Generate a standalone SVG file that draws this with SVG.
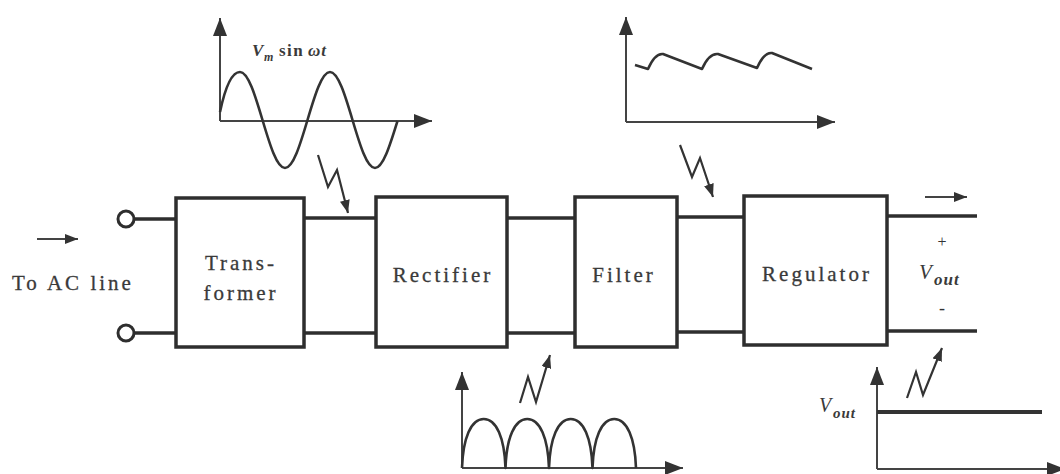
<svg xmlns="http://www.w3.org/2000/svg" width="1060" height="474" viewBox="0 0 1060 474">
<style>
.box{fill:#fff;stroke:#2e2e2e;stroke-width:3.5}
.wire{fill:none;stroke:#2e2e2e;stroke-width:3.5}
.ax{fill:none;stroke:#444;stroke-width:2}
.wave{fill:none;stroke:#333;stroke-width:2.6;stroke-linejoin:round}
.bolt{fill:none;stroke:#333;stroke-width:2.2;stroke-linejoin:miter}
.lbl{font-family:"Liberation Serif","Times New Roman",serif;font-size:21px;letter-spacing:3px;fill:#3a3a3a;stroke:#3a3a3a;stroke-width:0.3;text-anchor:middle}
.it{font-family:"Liberation Serif","Times New Roman",serif;font-style:italic;fill:#3a3a3a}
</style>
<defs>
<marker id="ah" markerWidth="20" markerHeight="14" refX="18" refY="7" orient="auto" markerUnits="userSpaceOnUse"><path d="M0,0 L18,7 L0,14 z" fill="#333"/></marker>
<marker id="as" markerWidth="14" markerHeight="10" refX="13" refY="5" orient="auto" markerUnits="userSpaceOnUse"><path d="M0,0 L13,5 L0,10 z" fill="#333"/></marker>
</defs>
<rect width="1060" height="474" fill="#fff"/>

<g id="connectors">
  <line class="wire" x1="134" y1="219" x2="176" y2="219"/>
  <line class="wire" x1="134" y1="333" x2="176" y2="333"/>
  <line class="wire" x1="304" y1="218" x2="376" y2="218"/>
  <line class="wire" x1="304" y1="333" x2="376" y2="333"/>
  <line class="wire" x1="507" y1="218" x2="575" y2="218"/>
  <line class="wire" x1="507" y1="333" x2="575" y2="333"/>
  <line class="wire" x1="677" y1="217" x2="744" y2="217"/>
  <line class="wire" x1="677" y1="332" x2="744" y2="332"/>
  <line class="wire" x1="887" y1="216" x2="977" y2="216"/>
  <line class="wire" x1="887" y1="331" x2="977" y2="331"/>
  <line class="ax" x1="37" y1="239" x2="78" y2="239" stroke-width="2.5" marker-end="url(#as)"/>
  <line class="ax" x1="925" y1="197" x2="967" y2="197" stroke-width="2.5" marker-end="url(#as)"/>
  <polyline class="bolt" points="318,155 328,187 337,170 348,213" marker-end="url(#as)"/>
  <polyline class="bolt" points="680,145 692,177 700,158 713,197" marker-end="url(#as)"/>
  <polyline class="bolt" points="520,403 528,377 536,402 550,355" marker-end="url(#as)"/>
  <polyline class="bolt" points="907,398 916,372 923,395 942,348" marker-end="url(#as)"/>
</g>

<g id="input">
  <circle cx="126" cy="219" r="8" fill="#fff" stroke="#2e2e2e" stroke-width="3"/>
  <circle cx="126" cy="333" r="8" fill="#fff" stroke="#2e2e2e" stroke-width="3"/>
  <text x="12" y="290" font-family="'Liberation Serif','Times New Roman',serif" font-size="21" letter-spacing="3" fill="#3a3a3a" stroke="#3a3a3a" stroke-width="0.3">To AC line</text>
</g>

<g id="transformer">
  <rect class="box" x="176" y="198" width="128" height="149"/>
  <text class="lbl" x="241" y="270">Trans-</text>
  <text class="lbl" x="241" y="300">former</text>
</g>

<g id="rectifier">
  <rect class="box" x="376" y="197" width="131" height="150"/>
  <text class="lbl" x="443" y="282">Rectifier</text>
</g>

<g id="filter">
  <rect class="box" x="575" y="197" width="102" height="150"/>
  <text class="lbl" x="624" y="282">Filter</text>
</g>

<g id="regulator">
  <rect class="box" x="744" y="196" width="143" height="149"/>
  <text class="lbl" x="817" y="281">Regulator</text>
</g>

<g id="output">
  <text x="942" y="247" font-family="'Liberation Serif',serif" font-size="16" fill="#333" text-anchor="middle">+</text>
  <text class="it" x="919" y="279" font-size="21">V</text>
  <text class="it" x="934" y="285" font-size="17" font-weight="bold" letter-spacing="1">out</text>
  <text x="942" y="314" font-family="'Liberation Serif',serif" font-size="18" fill="#333" text-anchor="middle">-</text>
</g>

<g id="graph-ac">
  <line class="ax" x1="220" y1="121" x2="220" y2="18" marker-end="url(#ah)"/>
  <line class="ax" x1="220" y1="121" x2="432" y2="121" marker-end="url(#ah)"/>
  <path class="wave" d="M220 112 C224 93 230 72 240 72 C248.1 72 255.2 95.4 262.5 120 C269.8 144.6 276.9 168 285 168 C293.1 168 300.2 144.6 307.5 120 C314.8 95.4 321.9 72 330 72 C338.1 72 345.2 95.4 352.5 120 C359.8 144.6 366.9 168 375 168 C383.1 168 390.2 144.6 397.5 121"/>
  <text class="it" x="252" y="56" font-size="17" font-weight="bold">V</text>
  <text class="it" x="264" y="61" font-size="12" font-weight="bold">m</text>
  <text x="279" y="56" font-family="'Liberation Serif',serif" font-size="17" font-weight="bold" letter-spacing="1.5" fill="#3a3a3a">sin</text>
  <text class="it" x="308" y="56" font-size="17" font-weight="bold" letter-spacing="1">ωt</text>
</g>

<g id="graph-ripple">
  <line class="ax" x1="626" y1="122" x2="626" y2="17" marker-end="url(#ah)"/>
  <line class="ax" x1="626" y1="122" x2="835" y2="122" marker-end="url(#ah)"/>
  <path class="wave" d="M635 65 L648 69 Q655 53 663 54 L702 69 Q709 53 718 54 L757 68 Q764 52 772 53 L812 69"/>
</g>

<g id="graph-rectified">
  <line class="ax" x1="462" y1="468" x2="462" y2="372" marker-end="url(#ah)"/>
  <line class="ax" x1="462" y1="468" x2="683" y2="468" marker-end="url(#ah)"/>
  <path class="wave" d="M462 468 C463 438 471 419 483.75 419 C496.5 419 504.5 438 505.5 468 C506.5 438 514.5 419 527.25 419 C540 419 548 438 549 468 C550 438 558 419 570.75 419 C583.5 419 591.5 438 592.5 468 C593.5 438 601.5 419 614.25 419 C627 419 635 438 636 468"/>
</g>

<g id="graph-dc">
  <line class="ax" x1="877" y1="469" x2="877" y2="367" marker-end="url(#ah)"/>
  <line class="ax" x1="877" y1="469" x2="1065" y2="469" marker-end="url(#ah)"/>
  <line x1="877" y1="412" x2="1042" y2="412" stroke="#333" stroke-width="4"/>
  <text class="it" x="819" y="412" font-size="20">V</text>
  <text class="it" x="833" y="418" font-size="15" font-weight="bold" letter-spacing="1">out</text>
</g>
</svg>
